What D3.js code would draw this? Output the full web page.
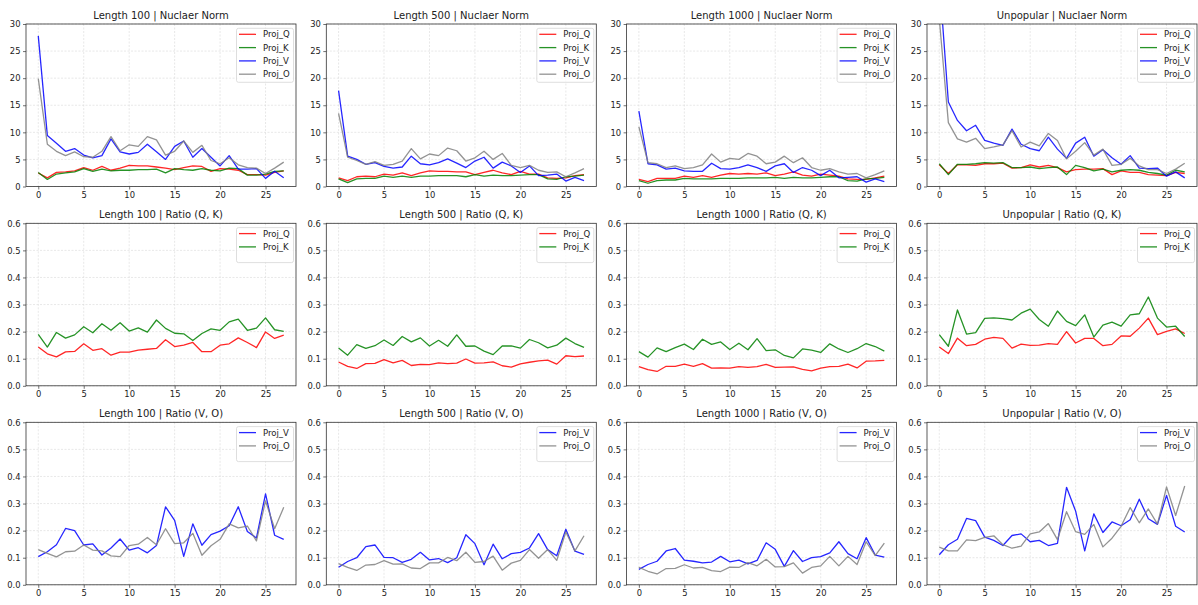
<!DOCTYPE html>
<html>
<head>
<meta charset="utf-8">
<script src="https://cdn.jsdelivr.net/npm/d3@7"></script>
<style>
  html, body { margin: 0; padding: 0; background: #fff; }
  svg { display: block; }
  text { font-family: "DejaVu Sans", sans-serif; fill: #222; }
</style>
</head>
<body>
<svg id="chart" width="1198" height="605"></svg>
<script>
// ---------- data ----------
const layers = d3.range(28);
const panelTitles = [
  "Length 100 | Nuclaer Norm", "Length 500 | Nuclaer Norm", "Length 1000 | Nuclaer Norm", "Unpopular | Nuclaer Norm",
  "Length 100 | Ratio (Q, K)", "Length 500 | Ratio (Q, K)", "Length 1000 | Ratio (Q, K)", "Unpopular | Ratio (Q, K)",
  "Length 100 | Ratio (V, O)", "Length 500 | Ratio (V, O)", "Length 1000 | Ratio (V, O)", "Unpopular | Ratio (V, O)"
];
const nnTicks = [0, 5, 10, 15, 20, 25, 30];
const ratioTicks = [0, 0.1, 0.2, 0.3, 0.4, 0.5, 0.6];
const xTicks = [0, 5, 10, 15, 20, 25];

// Nuclear norm, Length 100
const nn100_Q = [2.5,1.6,2.6,2.7,2.9,3.5,3.0,3.7,3.0,3.4,3.9,3.8,3.8,3.6,3.4,3.1,3.5,3.8,3.7,2.8,3.3,3.2,3.0,2.2,2.2,2.1,2.6,2.9];
const nn100_K = [2.6,1.3,2.3,2.5,2.7,3.3,2.8,3.2,2.9,3.0,3.0,3.1,3.1,3.2,2.5,3.3,3.1,3.0,3.3,3.0,2.9,3.4,3.3,2.1,2.1,2.3,2.8,2.9];
const nn100_V = [27.8,9.4,8.0,6.5,7.0,5.8,5.3,5.7,8.8,6.4,6.0,6.3,7.8,6.4,5.0,7.4,8.4,5.4,7.0,5.4,3.8,5.7,3.2,3.2,3.3,1.5,2.8,1.6];
const nn100_O = [19.9,7.8,6.5,5.7,6.4,5.5,5.4,6.5,9.2,6.6,7.7,7.4,9.2,8.6,5.8,6.5,8.4,6.3,7.6,4.8,4.2,5.3,4.0,3.5,3.4,2.4,3.4,4.5];
// Nuclear norm, Length 500
const nn500_Q = [1.6,1.1,1.8,1.9,1.8,2.3,2.1,2.5,2.0,2.5,2.9,2.8,2.8,2.7,2.7,2.2,2.6,3.0,2.5,2.2,2.8,2.3,2.3,1.6,1.5,1.6,2.0,2.2];
const nn500_K = [1.4,0.7,1.4,1.5,1.5,1.9,1.7,1.9,1.7,1.9,1.9,2.0,2.0,2.0,1.8,2.2,1.9,2.1,2.0,2.0,2.1,2.2,2.2,1.4,1.3,1.8,1.9,2.1];
const nn500_V = [17.7,5.6,5.0,4.1,4.4,3.7,3.4,3.6,5.6,4.2,4.0,4.4,5.1,4.3,3.5,4.7,5.4,3.4,4.5,3.8,2.6,3.8,2.0,2.1,2.3,1.0,1.7,1.1];
const nn500_O = [13.5,5.4,4.8,4.1,4.6,3.9,4.1,4.7,7.0,5.1,6.0,5.7,7.1,6.6,4.7,5.3,6.5,5.0,6.1,3.9,3.5,3.9,3.0,2.6,2.7,1.8,2.5,3.3];
// Nuclear norm, Length 1000
const nn1000_Q = [1.3,0.9,1.5,1.5,1.5,1.9,1.7,2.0,1.7,2.1,2.4,2.3,2.4,2.3,2.5,2.0,2.3,2.7,2.1,1.9,2.3,2.1,1.9,1.4,1.3,1.3,1.6,1.9];
const nn1000_K = [1.1,0.6,1.1,1.2,1.2,1.5,1.4,1.4,1.4,1.5,1.5,1.5,1.6,1.6,1.6,1.7,1.5,1.7,1.6,1.6,1.7,1.8,1.8,1.1,1.0,1.4,1.5,1.7];
const nn1000_V = [13.9,4.2,4.0,3.2,3.4,2.9,2.8,2.8,4.3,3.3,3.2,3.5,4.0,3.5,2.8,3.8,4.2,2.6,3.5,3.0,2.0,3.0,1.6,1.7,1.8,0.8,1.4,0.9];
const nn1000_O = [11.0,4.4,4.2,3.5,3.8,3.3,3.5,4.0,6.0,4.5,5.2,5.0,6.1,5.6,4.2,4.5,5.6,4.4,5.3,3.5,3.0,3.3,2.7,2.3,2.4,1.6,2.2,2.9];
// Nuclear norm, Unpopular
const nnUnp_Q = [4.0,2.4,4.0,4.0,3.9,4.2,4.2,4.3,3.4,3.5,4.0,3.6,3.9,3.5,2.7,3.1,3.2,3.2,3.3,2.2,2.9,2.6,2.6,2.2,2.1,2.0,2.6,2.4];
const nnUnp_K = [4.2,2.2,4.1,4.1,4.2,4.4,4.3,4.4,3.5,3.5,3.6,3.3,3.5,3.6,2.2,3.9,3.5,2.9,3.2,2.7,3.0,3.1,3.0,2.6,2.4,2.1,3.0,2.7];
const nnUnp_V = [38.5,15.6,12.2,10.3,11.3,8.5,8.0,7.6,10.6,7.8,7.0,6.6,9.1,6.9,5.2,8.0,9.1,5.6,6.8,5.3,4.1,5.7,3.4,3.3,3.4,1.9,2.7,1.6];
const nnUnp_O = [31.0,11.8,8.8,8.2,8.9,7.0,7.3,7.7,10.3,7.3,8.2,7.5,9.8,8.5,5.1,6.5,8.1,5.8,6.9,3.9,4.1,5.2,3.8,3.1,3.1,2.4,3.2,4.3];

// Ratio (Q, K)
const qk100_Q = [0.143,0.118,0.107,0.125,0.127,0.155,0.131,0.137,0.113,0.124,0.124,0.132,0.135,0.138,0.170,0.145,0.150,0.160,0.126,0.126,0.150,0.155,0.177,0.160,0.141,0.199,0.175,0.187];
const qk100_K = [0.190,0.143,0.197,0.176,0.188,0.218,0.196,0.229,0.205,0.233,0.202,0.214,0.198,0.243,0.212,0.194,0.192,0.167,0.193,0.210,0.205,0.236,0.246,0.205,0.213,0.251,0.207,0.201];
const qk500_Q = [0.088,0.072,0.064,0.082,0.083,0.097,0.085,0.094,0.075,0.079,0.078,0.085,0.082,0.084,0.099,0.084,0.085,0.088,0.074,0.069,0.081,0.087,0.092,0.095,0.080,0.111,0.108,0.110];
const qk500_K = [0.140,0.113,0.152,0.138,0.148,0.169,0.149,0.182,0.162,0.177,0.147,0.168,0.146,0.188,0.146,0.147,0.128,0.115,0.147,0.147,0.139,0.171,0.159,0.140,0.150,0.176,0.156,0.142];
const qk1000_Q = [0.071,0.060,0.053,0.072,0.072,0.080,0.072,0.082,0.065,0.066,0.065,0.071,0.068,0.071,0.079,0.068,0.069,0.070,0.061,0.055,0.065,0.071,0.072,0.080,0.066,0.091,0.092,0.094];
const qk1000_K = [0.126,0.106,0.140,0.126,0.141,0.154,0.134,0.172,0.153,0.162,0.134,0.157,0.133,0.174,0.130,0.133,0.112,0.103,0.136,0.132,0.123,0.155,0.136,0.123,0.137,0.156,0.145,0.128];
const qkUnp_Q = [0.143,0.119,0.176,0.148,0.153,0.172,0.179,0.175,0.139,0.154,0.149,0.150,0.156,0.153,0.200,0.158,0.175,0.175,0.148,0.153,0.184,0.183,0.213,0.250,0.189,0.201,0.210,0.193];
const qkUnp_K = [0.189,0.146,0.280,0.191,0.196,0.249,0.251,0.248,0.243,0.268,0.283,0.245,0.220,0.276,0.238,0.222,0.262,0.180,0.224,0.235,0.220,0.262,0.266,0.328,0.250,0.217,0.220,0.182];

// Ratio (V, O)
const vo100_V = [0.104,0.122,0.148,0.208,0.200,0.147,0.151,0.110,0.136,0.169,0.128,0.137,0.118,0.145,0.288,0.238,0.105,0.225,0.146,0.185,0.198,0.218,0.288,0.197,0.173,0.336,0.183,0.168];
const vo100_O = [0.130,0.116,0.103,0.122,0.124,0.147,0.128,0.125,0.107,0.104,0.145,0.150,0.175,0.148,0.207,0.152,0.155,0.190,0.109,0.144,0.168,0.225,0.210,0.217,0.162,0.310,0.207,0.286];
const vo500_V = [0.065,0.086,0.100,0.141,0.147,0.101,0.100,0.083,0.094,0.120,0.092,0.097,0.082,0.100,0.185,0.152,0.074,0.150,0.096,0.115,0.120,0.136,0.189,0.130,0.107,0.205,0.124,0.112];
const vo500_O = [0.078,0.064,0.053,0.073,0.075,0.089,0.076,0.077,0.062,0.060,0.081,0.081,0.101,0.089,0.120,0.083,0.086,0.106,0.054,0.080,0.090,0.130,0.098,0.130,0.090,0.195,0.125,0.181];
const vo1000_V = [0.057,0.075,0.087,0.125,0.134,0.091,0.087,0.081,0.084,0.105,0.085,0.091,0.077,0.090,0.155,0.131,0.068,0.126,0.086,0.100,0.104,0.118,0.159,0.115,0.096,0.174,0.110,0.102];
const vo1000_O = [0.064,0.050,0.040,0.060,0.061,0.074,0.062,0.064,0.052,0.049,0.065,0.064,0.082,0.070,0.094,0.066,0.067,0.081,0.043,0.064,0.070,0.105,0.070,0.105,0.075,0.159,0.108,0.154];
const voUnp_V = [0.111,0.148,0.168,0.245,0.237,0.176,0.164,0.145,0.182,0.188,0.159,0.164,0.145,0.153,0.360,0.272,0.125,0.262,0.193,0.232,0.218,0.240,0.316,0.244,0.223,0.330,0.216,0.195];
const voUnp_O = [0.139,0.125,0.125,0.166,0.163,0.175,0.181,0.148,0.135,0.143,0.188,0.195,0.226,0.167,0.270,0.196,0.186,0.223,0.140,0.172,0.216,0.285,0.229,0.280,0.224,0.361,0.256,0.365];

const seriesColor = { Proj_Q: "#ff0000", Proj_K: "#008000", Proj_V: "#0000ff", Proj_O: "#808080" };

const panels = [
  { title: panelTitles[0], nn: true, series: [["Proj_Q", nn100_Q], ["Proj_K", nn100_K], ["Proj_V", nn100_V], ["Proj_O", nn100_O]] },
  { title: panelTitles[1], nn: true, series: [["Proj_Q", nn500_Q], ["Proj_K", nn500_K], ["Proj_V", nn500_V], ["Proj_O", nn500_O]] },
  { title: panelTitles[2], nn: true, series: [["Proj_Q", nn1000_Q], ["Proj_K", nn1000_K], ["Proj_V", nn1000_V], ["Proj_O", nn1000_O]] },
  { title: panelTitles[3], nn: true, series: [["Proj_Q", nnUnp_Q], ["Proj_K", nnUnp_K], ["Proj_V", nnUnp_V], ["Proj_O", nnUnp_O]] },
  { title: panelTitles[4], nn: false, series: [["Proj_Q", qk100_Q], ["Proj_K", qk100_K]] },
  { title: panelTitles[5], nn: false, series: [["Proj_Q", qk500_Q], ["Proj_K", qk500_K]] },
  { title: panelTitles[6], nn: false, series: [["Proj_Q", qk1000_Q], ["Proj_K", qk1000_K]] },
  { title: panelTitles[7], nn: false, series: [["Proj_Q", qkUnp_Q], ["Proj_K", qkUnp_K]] },
  { title: panelTitles[8], nn: false, series: [["Proj_V", vo100_V], ["Proj_O", vo100_O]] },
  { title: panelTitles[9], nn: false, series: [["Proj_V", vo500_V], ["Proj_O", vo500_O]] },
  { title: panelTitles[10], nn: false, series: [["Proj_V", vo1000_V], ["Proj_O", vo1000_O]] },
  { title: panelTitles[11], nn: false, series: [["Proj_V", voUnp_V], ["Proj_O", voUnp_O]] }
];

// ---------- layout ----------
const svg = d3.select("#chart");
const W = 270, H = 162.5;
const colLeft = [26, 326.3, 626.6, 927];
const rowTop = [24, 223.3, 422.3];
const fsTick = 8.4, fsTitle = 10, fsLegend = 8.5;

panels.forEach((p, i) => {
  const col = i % 4, row = Math.floor(i / 4);
  const g = svg.append("g").attr("transform", `translate(${colLeft[col]},${rowTop[row]})`);
  const x = d3.scaleLinear().domain([-1.35, 28.35]).range([0, W]);
  const y = d3.scaleLinear().domain(p.nn ? [0, 30] : [0, 0.6]).range([H, 0]);
  const yt = p.nn ? nnTicks : ratioTicks;

  // grid
  g.append("g").selectAll("line").data(xTicks).join("line")
    .attr("x1", d => x(d)).attr("x2", d => x(d)).attr("y1", 0).attr("y2", H)
    .attr("stroke", "#d8d8d8").attr("stroke-width", 0.6).attr("stroke-dasharray", "2,1.5");
  g.append("g").selectAll("line").data(yt).join("line")
    .attr("y1", d => y(d)).attr("y2", d => y(d)).attr("x1", 0).attr("x2", W)
    .attr("stroke", "#d8d8d8").attr("stroke-width", 0.6).attr("stroke-dasharray", "2,1.5");

  // lines
  const clipId = "clip" + i;
  g.append("clipPath").attr("id", clipId).append("rect").attr("width", W).attr("height", H);
  const line = d3.line().x((d, k) => x(layers[k])).y(d => y(d));
  const lg = g.append("g").attr("clip-path", `url(#${clipId})`);
  p.series.forEach(([name, vals]) => {
    lg.append("path").datum(vals).attr("d", line)
      .attr("fill", "none").attr("stroke", seriesColor[name])
      .attr("stroke-opacity", 0.85).attr("stroke-width", 1.3).attr("stroke-linejoin", "round");
  });

  // axes
  const xa = g.append("g").attr("transform", `translate(0,${H})`)
    .call(d3.axisBottom(x).tickValues(xTicks).tickSize(3).tickPadding(2.5).tickFormat(d3.format("d")));
  const ya = g.append("g")
    .call(d3.axisLeft(y).tickValues(yt).tickSize(3).tickPadding(2.5).tickFormat(p.nn ? d3.format("d") : d3.format(".1f")));
  [xa, ya].forEach(a => {
    a.select(".domain").remove();
    a.selectAll("line").attr("stroke", "#333").attr("stroke-width", 0.7);
    a.selectAll("text").attr("font-size", fsTick).attr("font-family", "DejaVu Sans").attr("fill", "#222");
  });
  g.append("rect").attr("width", W).attr("height", H).attr("fill", "none")
    .attr("stroke", "#333").attr("stroke-width", 0.8);

  // title
  g.append("text").attr("x", W / 2).attr("y", -5.5).attr("text-anchor", "middle")
    .attr("font-size", fsTitle).text(p.title);

  // legend
  const n = p.series.length;
  const lw = 57, lh = 16 + n * 9.5;
  const lx = W - 2.5 - lw, ly = 4.3;
  const leg = g.append("g").attr("transform", `translate(${lx},${ly})`);
  leg.append("rect").attr("width", lw).attr("height", lh).attr("rx", 2).attr("ry", 2)
    .attr("fill", "#fff").attr("fill-opacity", 0.8).attr("stroke", "#d6d6d6").attr("stroke-width", 0.8);
  p.series.forEach(([name], k) => {
    const cy = 6 + k * 13.3;
    leg.append("line").attr("x1", 2.5).attr("x2", 19.5).attr("y1", cy).attr("y2", cy)
      .attr("stroke", seriesColor[name]).attr("stroke-opacity", 0.85).attr("stroke-width", 1.3);
    leg.append("text").attr("x", 26.5).attr("y", cy).attr("dy", "0.35em")
      .attr("font-size", fsLegend).text(name);
  });
});
</script>
</body>
</html>
